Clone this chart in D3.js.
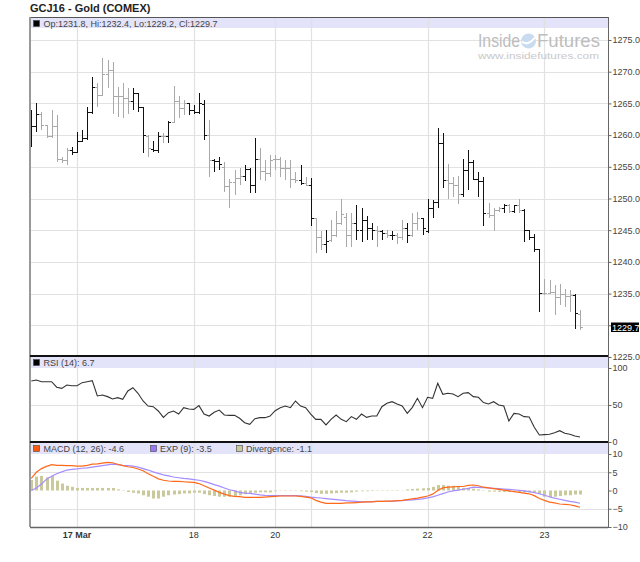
<!DOCTYPE html>
<html><head><meta charset="utf-8">
<script src="https://cdn.jsdelivr.net/npm/d3@7"></script>
<style>
html,body{margin:0;padding:0;background:#fff;}
svg{display:block;font-family:"Liberation Sans",Arial,sans-serif;}
</style></head><body>
<svg id="c" width="640" height="562"></svg>
<script>
// ---------- DATA ----------
const chartTitle = "GCJ16 - Gold (COMEX)";
const barOpen = [1259.1,1261.4,1263.4,1261.6,1259.9,1261.5,1256.3,1256.0,1257.6,1257.4,
 1259.0,1259.5,1263.7,1267.6,1266.3,1269.7,1270.3,1266.1,1266.1,1265.9,
 1265.4,1266.6,1264.5,1259.9,1257.8,1257.6,1259.9,1259.9,1262.1,1265.3,
 1264.2,1265.0,1264.0,1263.6,1264.9,1260.0,1256.1,1255.9,1255.0,1252.0,
 1252.6,1253.3,1253.5,1254.6,1252.1,1256.3,1254.3,1254.1,1256.2,1256.3,
 1254.8,1254.8,1253.0,1252.9,1252.5,1252.1,1246.9,1243.9,1242.8,1243.4,
 1244.2,1246.1,1247.1,1244.2,1246.1,1245.0,1246.6,1245.3,1245.1,1244.8,
 1244.5,1244.3,1244.2,1243.9,1245.3,1244.2,1246.1,1246.9,1244.8,1248.5,
 1249.5,1258.8,1252.9,1252.5,1252.2,1250.7,1254.5,1255.8,1253.0,1252.8,
 1247.7,1247.4,1248.2,1248.5,1249.0,1248.0,1248.9,1248.2,1245.1,1243.9,
 1242.1,1235.1,1235.1,1235.3,1234.5,1235.0,1234.6,1234.8,1231.8];
const barHigh = [1264.0,1265.0,1263.7,1261.6,1264.0,1263.2,1256.6,1257.9,1258.2,1260.5,
 1260.8,1264.5,1269.2,1268.2,1272.1,1271.8,1271.6,1267.6,1268.2,1267.4,
 1267.4,1266.6,1264.5,1260.0,1259.0,1260.5,1260.3,1262.2,1267.7,1266.1,
 1265.5,1265.1,1264.7,1266.6,1265.5,1262.4,1256.3,1256.6,1255.8,1253.0,
 1254.5,1254.8,1255.3,1254.8,1259.5,1257.9,1256.1,1256.9,1256.9,1256.6,
 1256.1,1256.1,1254.2,1255.3,1253.4,1253.2,1246.9,1244.8,1245.0,1246.6,
 1248.1,1250.0,1247.7,1247.7,1249.0,1248.5,1247.3,1246.1,1245.6,1245.1,
 1245.0,1244.8,1244.5,1246.6,1246.1,1247.7,1247.9,1246.9,1250.0,1249.8,
 1261.1,1260.4,1255.5,1253.4,1253.5,1256.3,1257.6,1256.0,1254.2,1253.4,
 1249.3,1248.5,1248.7,1249.2,1249.2,1249.0,1250.0,1248.3,1245.1,1244.4,
 1242.1,1237.3,1237.1,1236.4,1236.5,1235.7,1235.6,1234.9,1232.4];
const barLow = [1258.2,1260.5,1260.8,1259.5,1259.5,1255.8,1255.6,1255.3,1256.9,1257.1,
 1259.0,1259.2,1263.4,1264.5,1266.1,1267.4,1263.4,1262.9,1262.7,1263.4,
 1264.0,1263.7,1257.1,1256.6,1257.4,1257.1,1258.7,1258.7,1261.9,1262.7,
 1263.2,1263.2,1263.4,1263.4,1259.3,1253.4,1254.2,1254.5,1251.1,1248.5,
 1250.6,1252.1,1252.7,1250.8,1250.8,1252.9,1252.7,1253.4,1254.5,1253.4,
 1252.9,1251.6,1252.4,1252.1,1252.0,1245.6,1241.4,1241.9,1241.4,1243.2,
 1244.0,1245.8,1242.4,1242.4,1243.5,1243.2,1243.5,1243.5,1242.4,1243.5,
 1243.8,1243.5,1242.9,1243.5,1243.0,1244.0,1245.0,1244.2,1244.5,1246.9,
 1248.5,1251.6,1250.0,1250.3,1249.2,1250.3,1251.3,1252.9,1250.3,1245.6,
 1246.9,1244.8,1247.9,1247.7,1247.7,1247.7,1247.7,1243.2,1243.5,1241.6,
 1232.1,1234.8,1235.0,1231.6,1233.2,1232.9,1232.1,1229.4,1229.2];
const barClose = [1261.4,1263.4,1261.6,1259.9,1261.5,1256.3,1256.0,1257.6,1257.4,1259.0,
 1259.5,1263.7,1267.6,1266.3,1269.7,1270.3,1266.1,1266.1,1265.9,1265.4,
 1266.7,1264.5,1260.0,1257.9,1257.6,1259.9,1259.9,1262.1,1265.3,1264.2,
 1265.1,1264.0,1263.6,1265.0,1260.0,1256.1,1255.9,1255.5,1252.0,1252.6,
 1253.3,1253.5,1254.6,1252.1,1256.3,1254.3,1254.1,1256.1,1256.3,1254.8,
 1254.8,1253.0,1252.9,1252.5,1252.1,1246.9,1243.9,1242.8,1243.3,1244.2,
 1246.1,1247.5,1244.2,1246.1,1245.0,1246.6,1245.3,1245.1,1244.8,1244.5,
 1244.3,1244.2,1243.9,1245.3,1244.2,1246.1,1246.9,1245.3,1248.5,1249.5,
 1258.8,1252.9,1252.5,1252.2,1250.7,1254.5,1255.8,1253.0,1252.8,1247.7,
 1247.4,1248.2,1248.5,1249.0,1248.0,1248.9,1248.2,1245.1,1243.9,1242.1,
 1235.1,1235.1,1235.3,1234.5,1235.0,1234.6,1234.8,1232.0,1229.7];
// 1 = dark bar, 0 = light bar (as shown in the picture)
const barTone = [1,1,0,0,0,0,0,0,1,1, 1,1,1,0,0,0,0,0,0,0, 1,1,1,0,1,1,0,1,0,0,
 0,1,1,1,1,0,1,1,0,0, 0,0,1,1,1,0,0,0,0,0, 0,0,0,1,0,1,0,0,1,0,
 0,0,0,0,1,1,1,1,0,1, 0,1,0,0,1,0,0,1,1,1, 1,1,0,0,0,1,1,1,1,1,
 0,0,0,1,0,1,0,1,1,1, 1,0,0,0,0,0,0,1,0];
const rsi14 = [82.4,83.8,81.5,81.5,81.5,74,72.5,77,76.1,76,
 80.2,81.5,82.9,62.2,63.5,61.3,58.1,59.9,57.7,68.9,
 73.4,65.8,55.4,48.6,47.7,41.9,33.3,39.6,41.9,37.8,
 46.4,44.6,44.1,49.1,37.8,35.1,40.1,43.2,36.5,36,
 36,32,26.1,23.9,31.5,32.9,32.9,35.1,42.3,46.4,
 48.6,46.4,55.4,48.6,46.4,37.8,30.6,30.6,23,30.6,
 36.5,30.6,27.5,34.3,30.6,37.8,33.3,35.1,35.1,47.7,
 52.3,54.5,51.4,48.6,38.7,46.8,59,46.4,60.4,59,
 79.3,64.4,65.8,64.9,61.3,65.8,66.7,61.3,60.4,53.2,
 51.4,54.5,50,48.6,28.4,38.7,37.8,34.3,33.8,19.8,
 9.5,9.9,10.4,12.6,15.3,11.7,10.4,8.1,6.7];
const macdLine = [3.3,5.0,6.0,6.6,7.1,6.9,6.9,6.8,6.8,6.7,
 6.7,6.9,7.2,7.3,7.5,7.7,7.6,7.2,6.8,6.5,
 6.3,5.9,5.4,4.6,3.9,3.2,2.8,2.6,2.5,2.5,
 2.4,2.3,2.2,1.9,1.3,0.7,0.1,-0.5,-1.0,-1.4,
 -1.6,-1.7,-1.9,-1.9,-1.9,-1.9,-1.8,-1.7,-1.6,-1.5,
 -1.5,-1.5,-1.5,-1.6,-1.8,-2.0,-2.7,-3.2,-3.5,-3.5,
 -3.5,-3.5,-3.4,-3.4,-3.3,-3.2,-3.1,-3.1,-3.0,-3.0,
 -2.9,-2.9,-2.8,-2.7,-2.5,-2.3,-2.1,-1.8,-1.5,-1.0,
 0.0,0.7,0.9,1.0,1.1,1.1,1.4,1.5,1.3,0.9,
 0.7,0.5,0.3,0.1,-0.1,-0.3,-0.5,-0.7,-0.9,-1.4,
 -2.2,-2.7,-3.2,-3.4,-3.7,-3.8,-3.9,-4.2,-4.6];
const expLine = [0.0,0.7,1.8,3.1,3.9,4.6,5.1,5.6,5.8,5.9,
 6.1,6.2,6.4,6.6,6.8,7.0,7.2,7.1,6.9,6.8,
 6.7,6.4,6.0,5.6,5.1,4.7,4.3,4.0,3.7,3.5,
 3.3,3.2,3.0,2.8,2.5,2.1,1.6,1.2,0.7,0.2,
 -0.1,-0.5,-0.7,-0.8,-1.0,-1.2,-1.35,-1.4,-1.4,-1.4,
 -1.4,-1.4,-1.4,-1.45,-1.6,-1.8,-1.95,-2.05,-2.2,-2.35,
 -2.5,-2.65,-2.8,-2.9,-3.0,-3.1,-3.1,-3.05,-3.0,-3.0,
 -2.95,-2.9,-2.85,-2.75,-2.65,-2.55,-2.45,-2.3,-2.0,-1.75,
 -1.3,-0.85,-0.4,-0.1,0.1,0.35,0.6,0.9,0.85,0.8,
 0.7,0.6,0.5,0.4,0.3,0.2,0.05,-0.1,-0.3,-0.6,
 -0.9,-1.3,-1.7,-2.1,-2.4,-2.7,-3.0,-3.2,-3.5];
const divergence = [2.9,3.8,4.0,3.6,4.0,2.7,1.9,1.3,1.0,0.7,
 0.7,0.7,0.7,0.7,0.7,0.7,0.7,0.3,0.1,-0.4,
 -0.6,-0.8,-1.3,-1.7,-2.2,-2.2,-1.7,-1.3,-1.1,-1.0,
 -0.8,-0.8,-0.6,-0.6,-1.0,-1.3,-1.5,-1.7,-1.7,-1.7,
 -1.5,-1.3,-1.0,-0.8,-0.6,-0.5,-0.5,-0.5,-0.2,-0.1,
 -0.1,-0.1,-0.1,-0.2,-0.3,-0.4,-0.7,-0.9,-0.9,-0.8,
 -0.7,-0.6,-0.6,-0.5,-0.3,-0.2,-0.2,-0.15,-0.1,-0.1,
 -0.1,-0.1,-0.1,-0.05,0.3,0.4,0.5,0.6,0.7,1.0,
 1.5,1.5,1.3,1.3,1.0,0.7,0.7,0.5,0.3,0.1,
 -0.3,-0.3,-0.35,-0.4,-0.4,-0.4,-0.45,-0.5,-0.5,-0.6,
 -1.0,-1.7,-1.9,-1.7,-1.5,-1.3,-1.3,-1.1,-1.1];
const dayTickIndex = [9, 32, 48, 55, 78, 101];
const dayTickLabels = ["17 Mar", "18", "20", "", "22", "23"];
const priceTicks = [1225,1230,1235,1240,1245,1250,1255,1260,1265,1270,1275];
const rsiTicks = [0, 50, 100];
const macdTicks = [-10, -5, 0, 5, 10];
const lastRSI = 6.7, lastMACD = -4.6, lastEXP = -3.5, lastDiv = -1.1;

// ---------- LAYOUT ----------
const L = 30, R = 608;
const P = {top: 17, bot: 356}, Q = {top: 356, bot: 442}, M = {top: 442, bot: 527};
const N = barClose.length;
const svg = d3.select("#c");
const x = d3.scaleLinear().domain([0, N - 1]).range([31.3, 580]);
const yP = d3.scaleLinear().domain([1225, 1275]).range([357, 40]);
const yR = d3.scaleLinear().domain([0, 100]).range([442, 368]);
const yM = d3.scaleLinear().domain([-10, 10]).range([527, 454]);
const px = v => Math.round(v) + 0.5;
const grid = "#e2e2e2";
const lc = barClose[N - 1];

// header bands
[[18, 28], [357, 368], [443, 454]].forEach(b => {
  svg.append("rect").attr("x", L).attr("y", b[0]).attr("width", R - L).attr("height", b[1] - b[0]).attr("fill", "#e3e3fa");
});

// horizontal grid
const gg = svg.append("g").attr("stroke", grid).attr("stroke-width", 1.2);
priceTicks.filter(t => t > 1225).forEach(t => gg.append("line").attr("x1", L).attr("x2", R).attr("y1", px(yP(t))).attr("y2", px(yP(t))));
gg.append("line").attr("x1", L).attr("x2", R).attr("y1", px(yR(50))).attr("y2", px(yR(50)));
[5, -5].forEach(t => gg.append("line").attr("x1", L).attr("x2", R).attr("y1", px(yM(t))).attr("y2", px(yM(t))));
// vertical day grid
dayTickIndex.forEach(i => gg.append("line").attr("x1", px(x(i))).attr("x2", px(x(i))).attr("y1", 18).attr("y2", M.bot));

// watermark
const wm = svg.append("g").attr("fill", "#bdbdbd");
wm.append("text").attr("x", 478).attr("y", 47).attr("font-size", 19).attr("textLength", 42).attr("lengthAdjust", "spacingAndGlyphs").text("Inside");
wm.append("circle").attr("cx", 528.5).attr("cy", 41).attr("r", 7.5).attr("fill", "#c9dcef");
wm.append("path").attr("d", "M522,41.5 q6,5 13,-4").attr("stroke", "#fff").attr("stroke-width", 2).attr("fill", "none");
wm.append("text").attr("x", 537).attr("y", 47).attr("font-size", 19).attr("textLength", 63).attr("lengthAdjust", "spacingAndGlyphs").text("Futures");
wm.append("text").attr("x", 478).attr("y", 59).attr("font-size", 9.5).attr("textLength", 121).attr("lengthAdjust", "spacingAndGlyphs").attr("fill", "#c8c8c8").text("www.insidefutures.com");

// OHLC bars
const bars = svg.append("g").attr("shape-rendering", "crispEdges");
d3.range(N).forEach(i => {
  const cx = px(x(i));
  const col = barTone[i] ? "#111" : "#a9a9a9";
  bars.append("line").attr("x1", cx).attr("x2", cx).attr("y1", yP(barHigh[i])).attr("y2", yP(barLow[i])).attr("stroke", col);
  bars.append("line").attr("x1", cx - 2.5).attr("x2", cx).attr("y1", px(yP(barOpen[i]))).attr("y2", px(yP(barOpen[i]))).attr("stroke", col);
  bars.append("line").attr("x1", cx).attr("x2", cx + 2.5).attr("y1", px(yP(barClose[i]))).attr("y2", px(yP(barClose[i]))).attr("stroke", col);
});

// RSI line
svg.append("path").datum(rsi14).attr("fill", "none").attr("stroke", "#333").attr("stroke-width", 1.1)
  .attr("d", d3.line().x((d, i) => x(i)).y(d => yR(d)));

// MACD histogram
svg.append("g").attr("fill", "#c9c99c").selectAll("rect").data(divergence).join("rect")
  .attr("x", (d, i) => Math.round(x(i)) - 1).attr("width", 3)
  .attr("y", d => Math.min(yM(0), yM(d))).attr("height", d => Math.abs(yM(d) - yM(0)));
svg.append("path").datum(expLine).attr("fill", "none").attr("stroke", "#a58cff").attr("stroke-width", 1.2)
  .attr("d", d3.line().x((d, i) => x(i)).y(d => yM(d)));
svg.append("path").datum(macdLine).attr("fill", "none").attr("stroke", "#ff6a1a").attr("stroke-width", 1.2)
  .attr("d", d3.line().x((d, i) => x(i)).y(d => yM(d)));

// frames
svg.append("line").attr("x1", L).attr("x2", R).attr("y1", 17.5).attr("y2", 17.5).attr("stroke", "#555");
svg.append("line").attr("x1", L).attr("x2", L).attr("y1", 17).attr("y2", M.bot).attr("stroke", "#999").attr("stroke-width", 2);
[P.bot, Q.bot].forEach(yv => svg.append("line").attr("x1", L).attr("x2", R).attr("y1", yv).attr("y2", yv).attr("stroke", "#111").attr("stroke-width", 2));
svg.append("line").attr("x1", L).attr("x2", R).attr("y1", M.bot + 0.5).attr("y2", M.bot + 0.5).attr("stroke", "#666").attr("stroke-width", 1.5);
svg.append("line").attr("x1", R + 0.5).attr("x2", R + 0.5).attr("y1", 17).attr("y2", M.bot + 1).attr("stroke", "#666");

// right axes
function rAxis(scale, ticks, fmt) {
  const g = svg.append("g").attr("transform", `translate(${R + 0.5},0)`)
    .call(d3.axisRight(scale).tickValues(ticks).tickFormat(fmt).tickSize(3).tickPadding(1));
  g.select(".domain").remove();
  g.selectAll("line").attr("stroke", "#666");
  g.selectAll("text").attr("font-size", 9).attr("fill", "#444").attr("font-family", "Liberation Sans, Arial, sans-serif");
  return g;
}
const pg = rAxis(yP, priceTicks, d3.format(".1f"));
// the last-price box covers the tick label it sits on
pg.selectAll(".tick").filter(d => Math.abs(yP(d) - yP(lc)) < 9).select("text").remove();
rAxis(yR, rsiTicks, d3.format("d"));
rAxis(yM, macdTicks, d3.format("d"));

// last close box
svg.append("rect").attr("x", 611).attr("y", yP(lc) - 4.7).attr("width", 28).attr("height", 9.5).attr("fill", "#000");
svg.append("text").attr("x", 612).attr("y", yP(lc) + 3.3).attr("font-size", 9).attr("fill", "#fff").text(d3.format(".1f")(lc));

// x labels
svg.append("g").selectAll("text").data(dayTickIndex).join("text")
  .attr("x", d => x(d)).attr("y", 538).attr("text-anchor", "middle").attr("font-size", 9).attr("fill", "#333")
  .attr("font-weight", (d, i) => i === 0 ? "bold" : "normal").text((d, i) => dayTickLabels[i]);

// title
svg.append("text").attr("x", 30).attr("y", 12).attr("font-size", 11).attr("font-weight", "bold").attr("fill", "#222").text(chartTitle);

// headers / legends
const hdr = (sx, sy, col, tx, txt) => {
  svg.append("rect").attr("x", sx).attr("y", sy).attr("width", 6).attr("height", 6).attr("fill", col).attr("stroke", "#444").attr("stroke-width", 0.6);
  svg.append("text").attr("x", tx).attr("y", sy + 6.3).attr("font-size", 9).attr("fill", "#444").text(txt);
};
const f1 = d3.format(".1f");
hdr(33.5, 20.5, "#000", 43.5, `Op:${f1(barOpen[N-1])}, Hi:${f1(barHigh[N-1])}, Lo:${f1(barLow[N-1])}, Cl:${f1(barClose[N-1])}`);
hdr(33.5, 359.5, "#000", 43.5, `RSI (14): ${lastRSI}`);
hdr(33.5, 445.5, "#ff5a10", 43.5, `MACD (12, 26): ${lastMACD}`);
hdr(150.5, 445.5, "#9a78f5", 160, `EXP (9): ${lastEXP}`);
hdr(236.5, 445.5, "#c9c99c", 246, `Divergence: ${lastDiv}`);
</script>
</body></html>
